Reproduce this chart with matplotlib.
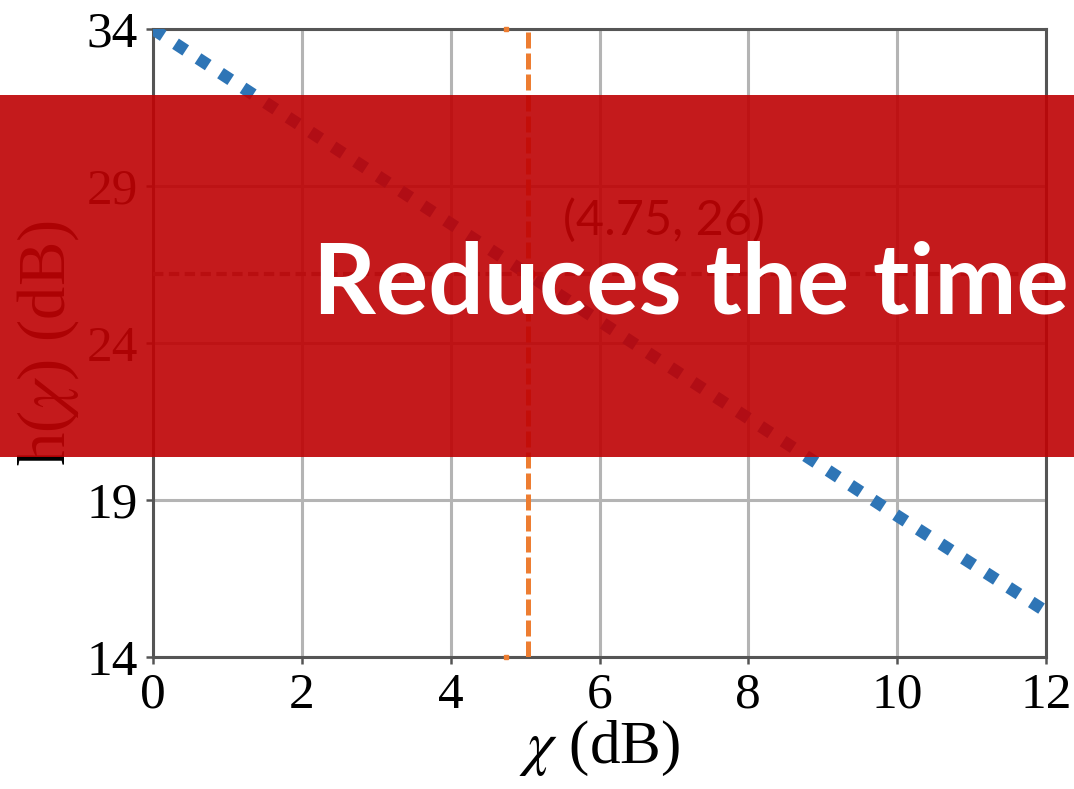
import matplotlib
matplotlib.use("Agg")
import matplotlib.pyplot as plt
from matplotlib.patches import Rectangle

# ---- data ----
chi_db = [0, 2, 4, 6, 8, 10, 12]
h_db = [34.0, 30.9, 27.8, 24.7, 21.6, 18.5, 15.45]
x_ticks = [0, 2, 4, 6, 8, 10, 12]
y_ticks = [14, 19, 24, 29, 34]
vline_x = 5.04
hline_y = 26.2
point_x = 4.75
annot_text = "(4.75, 26)"
banner_text = "Reduces the time"

plt.rcParams['mathtext.fontset'] = 'stix'
plt.rcParams['font.family'] = ['Liberation Serif', 'DejaVu Serif']

W, H = 1074, 789
fig = plt.figure(figsize=(W / 100, H / 100), dpi=100)
ax = fig.add_axes([153 / W, 1 - 657 / H, (1046 - 153) / W, (657 - 29) / H])

ax.set_xlim(0, 12)
ax.set_ylim(14, 34)
ax.set_xticks(x_ticks)
ax.set_yticks(y_ticks)
ax.grid(True, color='#b4b4b4', linewidth=2.2, zorder=0)
ax.set_axisbelow(True)
for s in ax.spines.values():
    s.set_color('#555555')
    s.set_linewidth(2.2)
ax.tick_params(axis='both', labelsize=37, length=5, width=1.8, pad=6,
               color='#555555', direction='out')

ax.plot(chi_db, h_db, color='#2E75B6', linewidth=8.8, linestyle=(0, (1, 1.2)),
        dash_capstyle='butt', zorder=3)
ax.axvline(vline_x, color='#ED7D31', linewidth=3.6, linestyle=(0, (3.2, 1.0)), zorder=3)
ax.axhline(hline_y, color='#808080', linewidth=3.0, linestyle=(0, (2.5, 1.3)), zorder=3)
ax.plot([vline_x], [hline_y], 'o', color='#FF0000', markersize=9, zorder=4)
ax.plot([point_x, point_x], [34, 14], linestyle='none', marker='s', markersize=3,
        color='#ED7D31', clip_on=False, zorder=4)

ax.text(5.51, 27.45, annot_text, fontsize=35, color='black',
        family=['Lato', 'DejaVu Sans'], va='baseline', ha='left', zorder=5)

ax.set_xlabel(r'$\chi$ (dB)', fontsize=44, labelpad=0)
ax.set_ylabel(r'h($\chi$) (dB)', fontsize=48, labelpad=4)

# banner overlay
fig.patches.append(Rectangle((0, 1 - 457 / H), 1, (457 - 95) / H,
                             transform=fig.transFigure, facecolor='#BF0305',
                             alpha=0.91, edgecolor='none', zorder=10))
fig.text(313 / W, 1 - 313 / H, banner_text, fontsize=70.5, fontweight='bold',
         color='white', family=['Lato', 'DejaVu Sans'], va='baseline', ha='left',
         zorder=11)

fig.savefig('out.png', dpi=100)
